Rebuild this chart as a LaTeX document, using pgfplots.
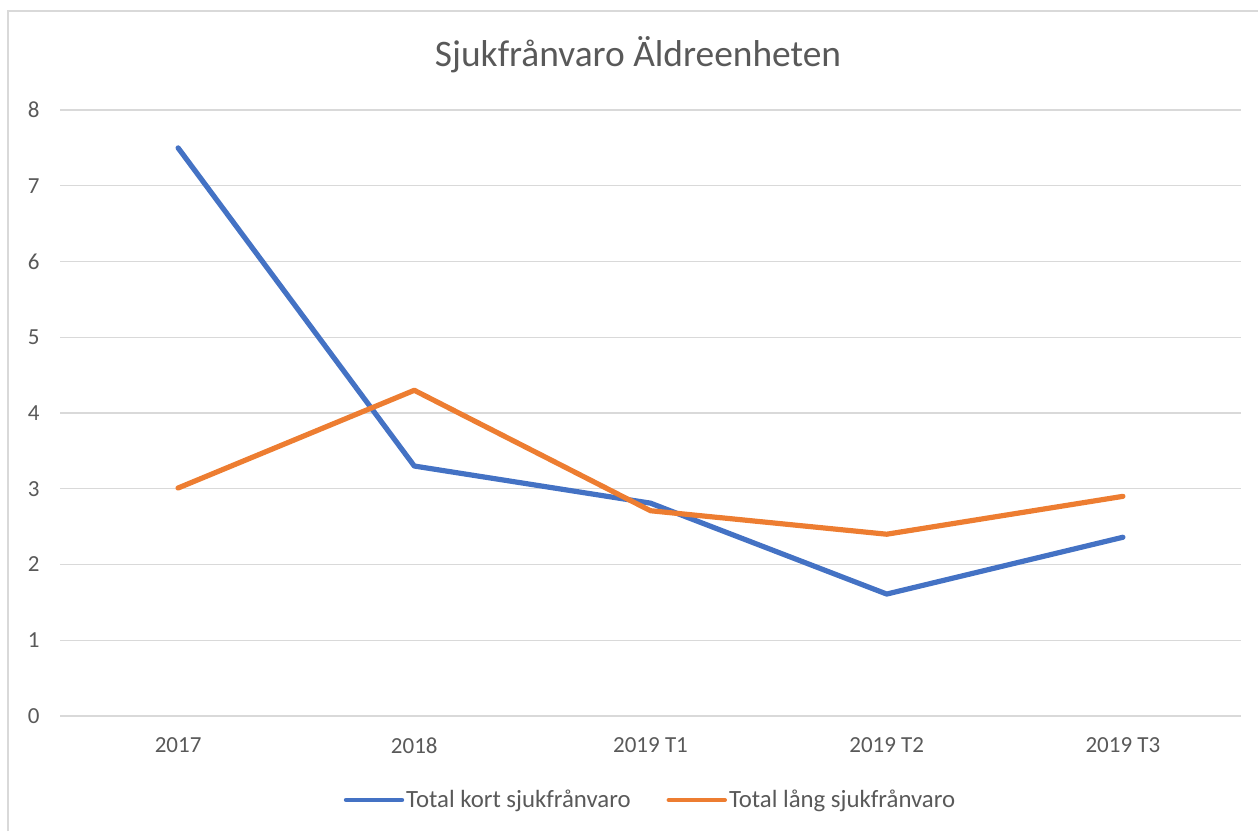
\documentclass[border=0pt]{standalone}
\usepackage{fontspec}
\setmainfont{Carlito}
\usepackage{pgfplots}
\pgfplotsset{compat=1.18}
\definecolor{cblue}{HTML}{4472C4}
\definecolor{corange}{HTML}{ED7D31}
\definecolor{cgrid}{HTML}{D9D9D9}
\definecolor{ctext}{HTML}{595959}
\begin{document}
\begin{tikzpicture}[x=1bp,y=1bp]
\useasboundingbox (0,0) rectangle (629,415.5);
\draw[cgrid, line width=0.75bp] (4,0) -- (4,410) -- (629,410);
\node[text=ctext, font=\fontsize{18.7bp}{22bp}\selectfont] at (319,388) {Sjukfrånvaro Äldreenheten};
\begin{axis}[at={(30bp,57.5bp)}, anchor=south west, scale only axis,
  width=590.5bp, height=303bp,
  xmin=-0.5, xmax=4.5, ymin=0, ymax=8,
  ytick={0,1,2,3,4,5,6,7,8}, xtick={0,1,2,3,4},
  xticklabels={2017,2018,2019 T1,2019 T2,2019 T3},
  ymajorgrids, grid style={cgrid, line width=0.7bp},
  axis line style={draw=none}, major tick length=0pt,
  tick label style={font=\fontsize{11.5bp}{14bp}\selectfont, text=ctext, inner sep=0pt},
  /pgf/number format/assume math mode=true,
  xticklabel style={anchor=north, yshift=-10.5bp},
  yticklabel style={anchor=east, xshift=-10bp},
  legend columns=2,
  legend style={at={(axis description cs:0.5,-0.1386)}, anchor=center, draw=none, fill=none,
    font=\fontsize{12.4bp}{15bp}\selectfont, text=ctext,
    /tikz/every even column/.append style={column sep=17bp},
    nodes={inner xsep=1bp}},
  legend image code/.code={\draw[#1, line width=2.2bp, line cap=round] (0bp,0bp) -- (28bp,0bp);},
]
\addplot[cblue, line width=2.6bp, line cap=round, line join=round] coordinates {(0,7.50) (1,3.30) (2,2.81) (3,1.61) (4,2.36)};
\addlegendentry{Total kort sjukfrånvaro}
\addplot[corange, line width=2.6bp, line cap=round, line join=round] coordinates {(0,3.01) (1,4.30) (2,2.71) (3,2.40) (4,2.90)};
\addlegendentry{Total lång sjukfrånvaro}
\end{axis}
\end{tikzpicture}
\end{document}
